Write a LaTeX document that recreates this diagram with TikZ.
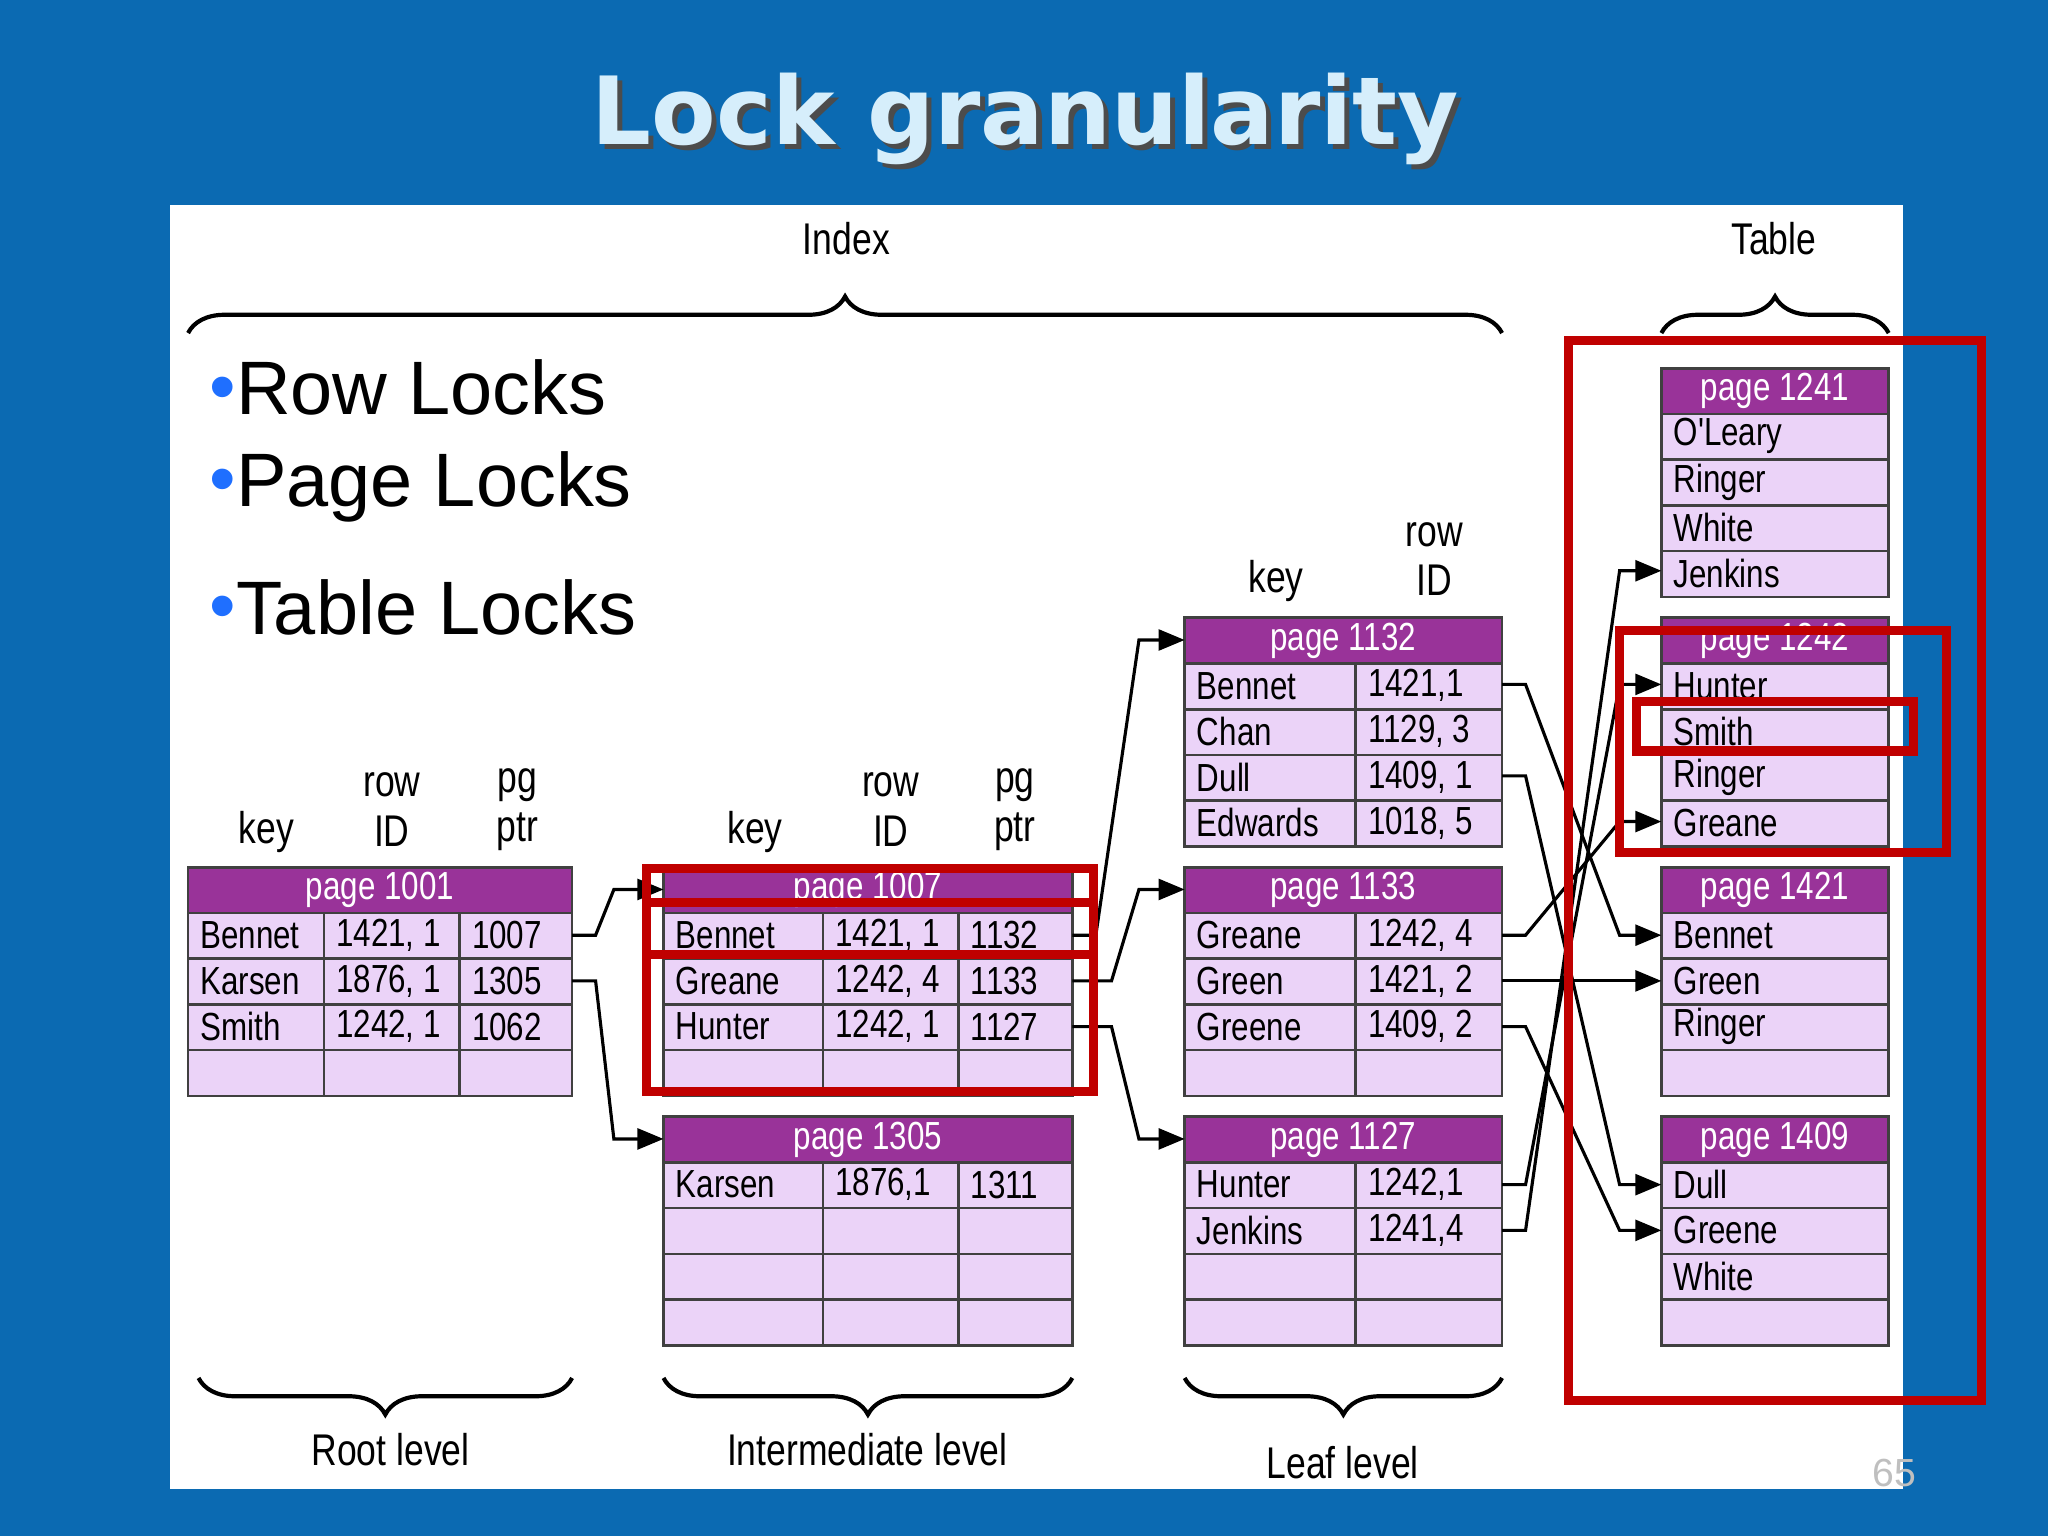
\documentclass[tikz,border=0pt]{standalone}
\usepackage{fontspec}
\setmainfont{Liberation Sans}
\newfontfamily\tabf{Liberation Sans}[FakeStretch=0.8]
\newfontfamily\ttlf{DejaVu Sans}
\usetikzlibrary{arrows.meta,decorations.pathreplacing}
\definecolor{bgc}{HTML}{0B6AB2}
\definecolor{hdrc}{HTML}{993399}
\definecolor{cellc}{HTML}{EBD3F8}
\definecolor{redc}{HTML}{C00000}
\definecolor{ttlc}{HTML}{D6EEFB}
\definecolor{bulc}{HTML}{1F6FFF}
\tikzset{
 gridl/.style={draw=black!75,line width=1pt},
 txt/.style={font=\tabf\fontsize{15}{16}\selectfont,anchor=west,inner sep=0pt},
 ctxt/.style={font=\tabf\fontsize{15}{16}\selectfont,inner sep=0pt,white},
 lbl/.style={font=\tabf\fontsize{17}{19}\selectfont,align=center,inner sep=0pt},
 redbox/.style={draw=redc,line width=3.5pt},
 conn/.style={line width=1.2pt,-{Triangle[length=10pt,width=8pt]}},
 brc/.style={decorate,decoration={brace,amplitude=14pt},line width=1.6pt},
 bul/.style={font=\fontsize{29}{32}\selectfont,anchor=west,inner sep=0pt}
}
\newcommand\pgbox[5]{% name,x0,x1,y0,title
 \fill[cellc] (#2,#4) rectangle (#3,{#4+175});
 \fill[hdrc] (#2,#4) rectangle (#3,{#4+35});
 \foreach \k in {1,...,4} \draw[gridl] (#2,{#4+35*\k}) -- (#3,{#4+35*\k});
 \draw[gridl] (#2,#4) rectangle (#3,{#4+175});
 \node[ctxt] (#1) at ({(#2+#3)/2},{#4+17.5}) {#5};
}
\newcommand\vcol[2]{\draw[gridl] (#1,{#2+35}) -- (#1,{#2+175});}
\newcommand\bdot{\textcolor{bulc}{\raisebox{1pt}{•}}}
\begin{document}
\begin{tikzpicture}[x=0.5pt,y=-0.5pt]
\fill[bgc] (0,0) rectangle (1568,1176);
\fill[white] (130,157) rectangle (1457,1140);
\node[font=\ttlf\bfseries\fontsize{36}{40}\selectfont,black!70] (tshadow) at (789,95) {Lock granularity};
\node[font=\ttlf\bfseries\fontsize{36}{40}\selectfont,ttlc] (title) at (785,91) {Lock granularity};

% bullets
\node[bul] (b1) at (160,297) {\bdot Row Locks};
\node[bul] (b2) at (160,373) {\bdot Page Locks};
\node[bul] (b3) at (160,465) {\bdot Table Locks};

% labels
\node[lbl] (lidx) at (648,183) {Index};
\node[lbl] (ltab) at (1358,183) {Table};
\node[lbl] (lroot) at (299,1110) {Root level};
\node[lbl] (lint) at (664,1110) {Intermediate level};
\node[lbl] (lleaf) at (1028,1120) {Leaf level};
\node[lbl] at (204,637) {key};
\node[lbl] at (300,620) {row\\ID};
\node[lbl] at (396,620) {pg\\ptr};
\node[lbl] at (578,637) {key};
\node[lbl] at (682,620) {row\\ID};
\node[lbl] at (777,620) {pg\\ptr};
\node[lbl] at (977,445) {key};
\node[lbl] at (1098,428) {row\\ID};

% braces
\draw[brc] (144,255) -- (1150,255);
\draw[brc] (1272,255) -- (1446,255);
\draw[brc] (438,1055) -- (152,1055);
\draw[brc] (821,1055) -- (508,1055);
\draw[brc] (1150,1055) -- (907,1055);

% root
\pgbox{p1001}{144}{438}{664}{page 1001}
\vcol{248}{664}\vcol{352}{664}
\node[txt] at (153,716) {Bennet};\node[txt] at (257,716) {1421, 1};\node[txt] at (361,716) {1007};
\node[txt] at (153,751) {Karsen};\node[txt] at (257,751) {1876, 1};\node[txt] at (361,751) {1305};
\node[txt] at (153,786) {Smith};\node[txt] at (257,786) {1242, 1};\node[txt] at (361,786) {1062};
% intermediate
\pgbox{p1007}{508}{821}{664}{page 1007}
\vcol{630}{664}\vcol{734}{664}
\node[txt] at (517,716) {Bennet};\node[txt] at (639,716) {1421, 1};\node[txt] at (743,716) {1132};
\node[txt] at (517,751) {Greane};\node[txt] at (639,751) {1242, 4};\node[txt] at (743,751) {1133};
\node[txt] at (517,786) {Hunter};\node[txt] at (639,786) {1242, 1};\node[txt] at (743,786) {1127};
\pgbox{p1305}{508}{821}{855}{page 1305}
\vcol{630}{855}\vcol{734}{855}
\node[txt] at (517,907) {Karsen};\node[txt] at (639,907) {1876,1};\node[txt] at (743,907) {1311};
% leaf
\pgbox{p1132}{907}{1150}{473}{page 1132}
\vcol{1038}{473}
\node[txt] at (916,525) {Bennet};\node[txt] at (1047,525) {1421,1};
\node[txt] at (916,560) {Chan};\node[txt] at (1047,560) {1129, 3};
\node[txt] at (916,595) {Dull};\node[txt] at (1047,595) {1409, 1};
\node[txt] at (916,630) {Edwards};\node[txt] at (1047,630) {1018, 5};
\pgbox{p1133}{907}{1150}{664}{page 1133}
\vcol{1038}{664}
\node[txt] at (916,716) {Greane};\node[txt] at (1047,716) {1242, 4};
\node[txt] at (916,751) {Green};\node[txt] at (1047,751) {1421, 2};
\node[txt] at (916,786) {Greene};\node[txt] at (1047,786) {1409, 2};
\pgbox{p1127}{907}{1150}{855}{page 1127}
\vcol{1038}{855}
\node[txt] at (916,907) {Hunter};\node[txt] at (1047,907) {1242,1};
\node[txt] at (916,942) {Jenkins};\node[txt] at (1047,942) {1241,4};
% table
\pgbox{p1241}{1272}{1446}{282}{page 1241}
\node[txt] at (1281,334) {O'Leary};\node[txt] at (1281,369) {Ringer};
\node[txt] at (1281,404) {White};\node[txt] at (1281,439) {Jenkins};
\pgbox{p1242}{1272}{1446}{473}{page 1242}
\node[txt] at (1281,525) {Hunter};\node[txt] at (1281,560) {Smith};
\node[txt] at (1281,595) {Ringer};\node[txt] at (1281,630) {Greane};
\pgbox{p1421}{1272}{1446}{664}{page 1421}
\node[txt] at (1281,716) {Bennet};\node[txt] at (1281,751) {Green};\node[txt] at (1281,786) {Ringer};
\pgbox{p1409}{1272}{1446}{855}{page 1409}
\node[txt] at (1281,907) {Dull};\node[txt] at (1281,942) {Greene};\node[txt] at (1281,977) {White};

% connector coordinates
\coordinate (rB) at (438,716); \coordinate (rK) at (438,751);
\coordinate (i07) at (508,681); \coordinate (i05) at (508,872);
\coordinate (iB) at (821,716); \coordinate (iG) at (821,751); \coordinate (iH) at (821,786);
\coordinate (l32) at (907,490); \coordinate (l33) at (907,681); \coordinate (l27) at (907,872);
\coordinate (lBe) at (1150,524); \coordinate (lDu) at (1150,594);
\coordinate (lGa) at (1150,716); \coordinate (lGn) at (1150,751); \coordinate (lGe) at (1150,786);
\coordinate (lHu) at (1150,907); \coordinate (lJe) at (1150,942);
\coordinate (tJe) at (1272,437); \coordinate (tHu) at (1272,524); \coordinate (tGa) at (1272,629);
\coordinate (tBe) at (1272,716); \coordinate (tGn) at (1272,751);
\coordinate (tDu) at (1272,907); \coordinate (tGe) at (1272,942);

\draw[conn] (rB) -- ++(18,0) -- (470,681) -- (i07);
\draw[conn] (rK) -- ++(18,0) -- (470,872) -- (i05);
\draw[conn] (iB) -- ++(18,0) -- (872,490) -- (l32);
\draw[conn] (iG) -- ++(30,0) -- (872,681) -- (l33);
\draw[conn] (iH) -- ++(30,0) -- (872,872) -- (l27);
\draw[conn] (lBe) -- ++(18,0) -- (1240,716) -- (tBe);
\draw[conn] (lDu) -- ++(18,0) -- (1240,907) -- (tDu);
\draw[conn] (lGa) -- ++(18,0) -- (1240,629) -- (tGa);
\draw[conn] (lGn) -- (tGn);
\draw[conn] (lGe) -- ++(18,0) -- (1240,942) -- (tGe);
\draw[conn] (lHu) -- ++(18,0) -- (1240,524) -- (tHu);
\draw[conn] (lJe) -- ++(18,0) -- (1240,437) -- (tJe);

% red boxes
\draw[redbox] (1201,261) rectangle (1517,1072);
\draw[redbox] (1240,483) rectangle (1490,653);
\draw[redbox] (1253,537) rectangle (1465,575);
\draw[redbox] (495,665) rectangle (837,836);
\draw[redbox] (495,691) -- (837,691);
\draw[redbox] (495,731) -- (837,731);

\node[font=\fontsize{15}{16}\selectfont,black!25,anchor=east] (pnum) at (1474,1128) {65};
\end{tikzpicture}
\end{document}
